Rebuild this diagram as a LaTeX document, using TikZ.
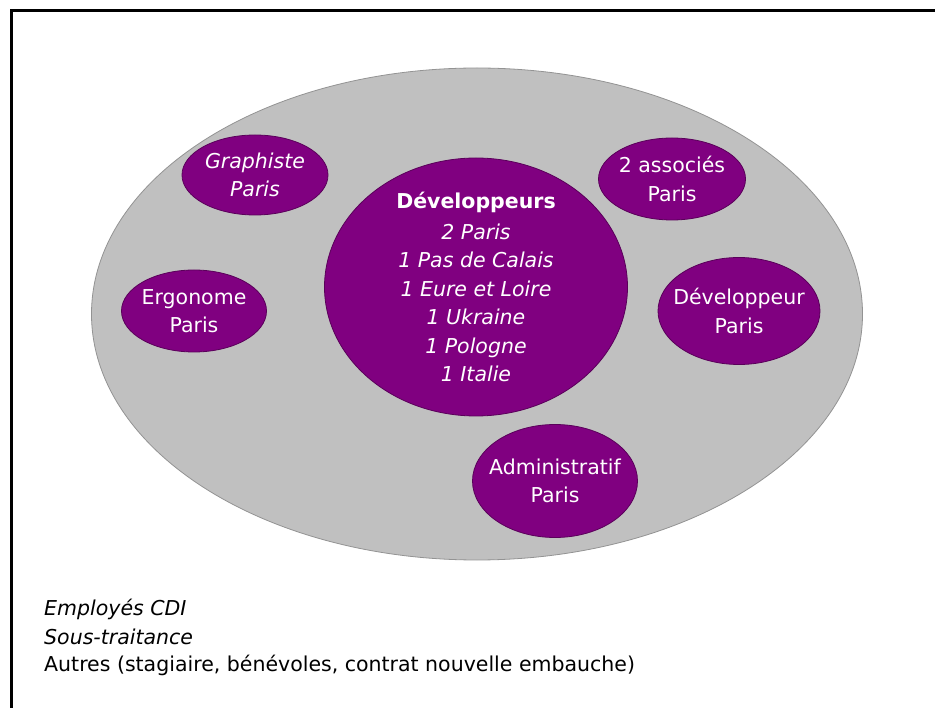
\documentclass[tikz,border=0pt]{standalone}
\usepackage{fontspec}
\setmainfont{DejaVu Sans}
\usepackage{tikz}
\usetikzlibrary{shapes.geometric}

\definecolor{bulle}{HTML}{800080}
\definecolor{fond}{HTML}{C0C0C0}

\tikzset{
  team/.style={ellipse, fill=bulle, draw=bulle!70!black, line width=0.8pt,
    inner xsep=-14pt, inner ysep=-5pt, text=white, align=center,
    font=\fontsize{20.5}{28.5}\selectfont},
  legend/.style={anchor=west, inner sep=0pt, font=\fontsize{20.5}{28}\selectfont}
}

\begin{document}
\begin{tikzpicture}[x=1pt, y=-1pt]
    \useasboundingbox (0,0) rectangle (935,708);

    % Frame
    \draw[line width=3pt] (11,708) -- (11,11) -- (935,11);

    % Company
    \node(societe) [ellipse, fill=fond, draw=gray!85, line width=0.8pt,
      minimum width=771pt, minimum height=492pt] at (477,314) {};

    % Nodes
    \node(dev) [team, minimum width=303pt, minimum height=258pt] at (476,287)
      {\textbf{Développeurs}\\[2pt] \textit{2 Paris}\\ \textit{1 Pas de Calais}\\
       \textit{1 Eure et Loire}\\ \textit{1 Ukraine}\\ \textit{1 Pologne}\\ \textit{1 Italie}};
    \node(graph) [team, minimum width=146pt, minimum height=80pt] at (255,175)
      {\textit{Graphiste}\\ \textit{Paris}};
    \node(ergo) [team, minimum width=145pt, minimum height=82pt] at (194,311)
      {Ergonome\\ Paris};
    \node(assoc) [team, minimum width=147pt, minimum height=82pt] at (672,179)
      {2 associés\\ Paris};
    \node(devp) [team, minimum width=162pt, minimum height=107pt] at (739,311)
      {Développeur\\ Paris};
    \node(admin) [team, minimum width=165pt, minimum height=113pt] at (555,481)
      {Administratif\\ Paris};

    % Legend
    \node(cdi) [legend] at (44,609) {\textit{Employés CDI}};
    \node(st) [legend] at (44,637) {\textit{Sous-traitance}};
    \node(autres) [legend] at (44,665) {Autres (stagiaire, bénévoles, contrat nouvelle embauche)};
\end{tikzpicture}
\end{document}
